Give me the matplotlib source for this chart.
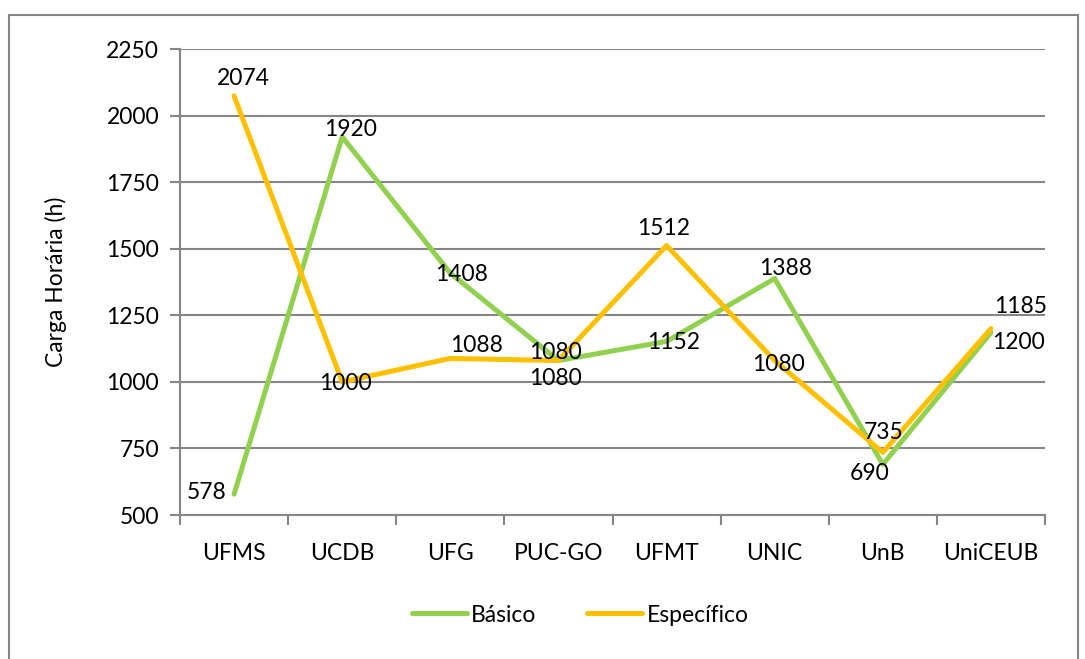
import matplotlib
matplotlib.use("Agg")
import matplotlib.pyplot as plt
from matplotlib.patches import Rectangle
import numpy as np

categories = ["UFMS", "UCDB", "UFG", "PUC-GO", "UFMT", "UNIC", "UnB", "UniCEUB"]
basico = [578, 1920, 1408, 1080, 1152, 1388, 690, 1185]
especifico = [2074, 1000, 1088, 1080, 1512, 1080, 735, 1200]
y_ticks = [500, 750, 1000, 1250, 1500, 1750, 2000, 2250]

# label offsets in pixels (dx, dy)
off_b = [(-27, 2), (8, 7), (11, -1), (-3, -18), (7, -1), (11, 10), (-13, -9), (30, 26)]
off_e = [(9, 17), (3, -2), (26, 13), (-3, 8), (-3, 17), (4, -4), (1, 20), (28, -14)]

plt.rcParams['font.family'] = ['Lato', 'DejaVu Sans']
FS = 16.5
GREEN = "#92D050"
ORANGE = "#FFC000"
GRAY = "#868686"

fig = plt.figure(figsize=(10.85, 6.59), dpi=100)
fig.patches.append(Rectangle((9/1085, -0.01), (1078-9)/1085, 1 - 15/659 + 0.01,
                             transform=fig.transFigure, fill=False,
                             edgecolor=GRAY, linewidth=1.5))
ax = fig.add_axes([180/1085, 1-515/659, (1045-180)/1085, (515-49)/659])

x = np.arange(len(categories))
ax.plot(x, basico, color=GREEN, lw=3.6, solid_capstyle='round', label="Básico", zorder=3)
ax.plot(x, especifico, color=ORANGE, lw=3.6, solid_capstyle='round', label="Específico", zorder=4)

for xi, v, o in zip(x, basico, off_b):
    ax.annotate(str(v), (xi, v), xytext=o, textcoords='offset pixels',
                ha='center', va='center', fontsize=FS, color='black', zorder=5)
for xi, v, o in zip(x, especifico, off_e):
    ax.annotate(str(v), (xi, v), xytext=o, textcoords='offset pixels',
                ha='center', va='center', fontsize=FS, color='black', zorder=5)

ax.set_xlim(-0.5, len(categories) - 0.5)
ax.set_ylim(500, 2250)
ax.set_yticks(y_ticks)
ax.set_yticklabels([str(t) for t in y_ticks], fontsize=FS)
ax.set_xticks(x)
ax.set_xticklabels(categories, fontsize=FS)
ax.set_xticks(np.arange(-0.5, len(categories)), minor=True)
ax.tick_params(axis='x', which='major', length=0, pad=20)
ax.tick_params(axis='x', which='minor', length=7, width=1.5, color=GRAY)
ax.tick_params(axis='y', which='major', length=7, width=1.5, color=GRAY, pad=8)
ax.grid(axis='y', color=GRAY, lw=1.5, zorder=0)
ax.set_axisbelow(True)
for s in ['top', 'right']:
    ax.spines[s].set_visible(False)
for s in ['left', 'bottom']:
    ax.spines[s].set_color(GRAY)
    ax.spines[s].set_linewidth(1.5)
ax.set_ylabel("Carga Horária (h)", fontsize=FS, labelpad=28)

leg = fig.legend(loc='center', bbox_to_anchor=(580/1085, 1-615/659), ncol=2,
                 frameon=False, fontsize=FS, handlelength=2.4, handletextpad=0.2,
                 columnspacing=2.2)

fig.savefig("out.png", dpi=100)
